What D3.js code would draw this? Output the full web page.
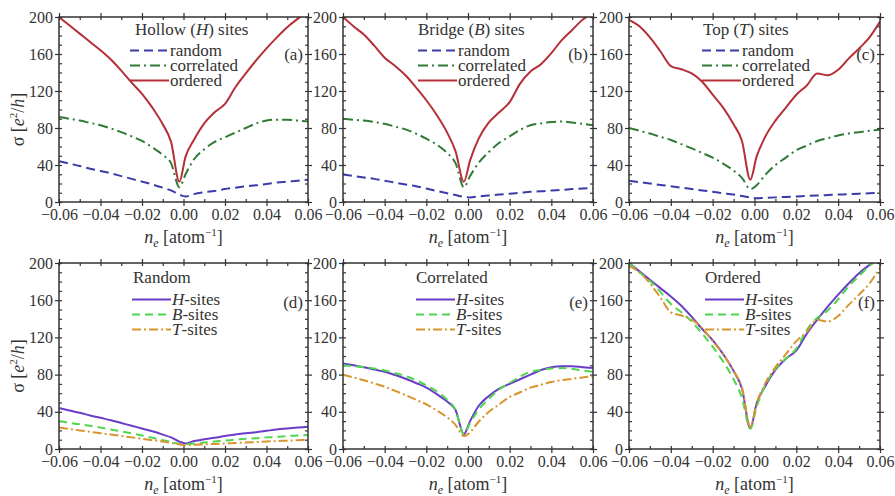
<!DOCTYPE html>
<html>
<head>
<meta charset="utf-8">
<script src="https://cdn.jsdelivr.net/npm/d3@7"></script>
<style>
body { margin: 0; background: #fff; }
svg text { font-family: "Liberation Serif", "DejaVu Serif", serif; }
.axis text { font-size: 16px; fill: #333; }
.axis line { stroke: #333; stroke-width: 1.2; }
.frame { fill: none; stroke: #333; stroke-width: 1.5; }
.title, .legend text, .plabel { font-size: 17px; fill: #333; }
</style>
</head>
<body>
<svg class="chart"></svg>
<script>
// carrier density grid (atom^-1)
var nValues = [-0.06, -0.055, -0.05, -0.045, -0.04, -0.035, -0.03, -0.025, -0.02, -0.015, -0.01, -0.006, -0.002,
               0.001, 0.005, 0.01, 0.015, 0.02, 0.025, 0.03, 0.035, 0.04, 0.045, 0.05, 0.055, 0.06];

// conductivity sigma [e^2/h], hollow sites
var hollowRandom     = [44, 41.5, 39, 36, 33.5, 31, 28, 25, 22, 19, 15.5, 12.5, 8, 6, 8.5, 10.5, 12, 14, 15.5, 17, 18, 19.5, 21, 22, 23, 24];
var hollowCorrelated = [92, 90, 88, 85.5, 83, 79.5, 75.5, 71, 66, 59, 51, 42, 16, 30, 46, 57, 65, 70, 75, 80, 85, 88, 89, 89, 88, 87];
var hollowOrdered    = [200, 191, 182, 173, 164, 154, 142, 129, 117, 102, 84, 65, 22, 49, 67, 85, 97, 106, 124, 139, 153, 166, 178, 189, 198, 206];

// bridge sites
var bridgeRandom     = [30, 28, 26.5, 25, 23, 21, 19, 17, 14.5, 12, 9.5, 7.5, 5.5, 5, 6, 7, 8, 9, 10, 11, 11.5, 12.5, 13, 14, 14.5, 15];
var bridgeCorrelated = [90, 89, 88, 86.5, 84.5, 81.5, 78.5, 74, 68.5, 62, 53, 42, 16, 28, 42, 54, 64, 71, 78, 83, 85, 86.5, 87, 86, 84.5, 83];
var bridgeOrdered    = [200, 190, 181, 169, 156, 147, 137, 124, 110, 94, 75, 55, 22, 45, 68, 86, 97, 108, 128, 141, 149, 161, 175, 186, 197, 204];

// top sites
var topRandom        = [23, 21.5, 20, 18.5, 17, 15.5, 14, 12.5, 11, 9.5, 8, 6.5, 5, 4, 4.5, 5, 5.5, 6, 6.5, 7, 7.5, 8, 8.5, 9, 9.5, 10];
var topCorrelated    = [80, 77, 74, 70.5, 67, 62.5, 58, 53, 48, 41.5, 34, 26, 14, 18, 29, 40, 48, 56, 61, 66, 69, 72, 74, 75.5, 77, 78];
var topOrdered       = [197, 190, 178, 163, 147, 143.5, 139, 130, 116, 102, 84, 66, 24, 49, 70, 88, 102, 116, 126, 139, 137, 143, 155, 166, 178, 195];

var xTicks = [-0.06, -0.04, -0.02, 0.00, 0.02, 0.04, 0.06];
var yTicks = [0, 40, 80, 120, 160, 200];

var styles = {
	random:     {color: "#3a3aa8", dash: "9,5"},
	correlated: {color: "#2f7a35", dash: "10,4,2,4"},
	ordered:    {color: "#b52f38", dash: null},
	H: {color: "#6a3cc8", dash: null},
	B: {color: "#4fd64f", dash: "8,5"},
	T: {color: "#d8952f", dash: "9,3,2,3"}
};

var cols = [[59, 308], [343, 593], [629, 880]];
var rows = [[17, 202], [263, 449]];

var panels = [
	{row: 0, col: 0, label: "(a)", title: [["Hollow ("], ["H", 1], [") sites"]], lx: 71, tx: 76,
	 series: [["random", hollowRandom, "random"], ["correlated", hollowCorrelated, "correlated"], ["ordered", hollowOrdered, "ordered"]]},
	{row: 0, col: 1, label: "(b)", title: [["Bridge ("], ["B", 1], [") sites"]], lx: 75, tx: 75,
	 series: [["random", bridgeRandom, "random"], ["correlated", bridgeCorrelated, "correlated"], ["ordered", bridgeOrdered, "ordered"]]},
	{row: 0, col: 2, label: "(c)", title: [["Top ("], ["T", 1], [") sites"]], lx: 73, tx: 74,
	 series: [["random", topRandom, "random"], ["correlated", topCorrelated, "correlated"], ["ordered", topOrdered, "ordered"]]},
	{row: 1, col: 0, label: "(d)", title: [["Random"]], lx: 73, tx: 74,
	 series: [["H", hollowRandom, "H"], ["B", bridgeRandom, "B"], ["T", topRandom, "T"]]},
	{row: 1, col: 1, label: "(e)", title: [["Correlated"]], lx: 73, tx: 73,
	 series: [["H", hollowCorrelated, "H"], ["B", bridgeCorrelated, "B"], ["T", topCorrelated, "T"]]},
	{row: 1, col: 2, label: "(f)", title: [["Ordered"]], lx: 76, tx: 76,
	 series: [["H", hollowOrdered, "H"], ["B", bridgeOrdered, "B"], ["T", topOrdered, "T"]]}
];

var svg = d3.select(".chart")
	.attr("width", 895)
	.attr("height", 496);

// write text pieces, some of them italic
function pieces(sel, parts) {
	parts.forEach(function(p) {
		sel.append("tspan")
			.style("font-style", p[1] ? "italic" : "normal")
			.text(p[0]);
	});
}

function axisTitleX(g, w, h) {
	var t = g.append("text")
		.attr("class", "title")
		.attr("x", w/2)
		.attr("y", h + 41)
		.attr("text-anchor", "middle")
		.style("font-size", "18px");
	t.append("tspan").style("font-style", "italic").text("n");
	t.append("tspan").style("font-style", "italic").style("font-size", "12px").attr("dy", 4).text("e");
	t.append("tspan").attr("dy", -4).text(" [atom");
	t.append("tspan").style("font-size", "11px").attr("dy", -7).text("\u22121");
	t.append("tspan").attr("dy", 7).text("]");
}

function axisTitleY(top, h) {
	var t = svg.append("text")
		.attr("class", "title")
		.attr("transform", "translate(24," + (top + h/2 + 10) + ") rotate(-90)")
		.attr("text-anchor", "middle")
		.style("font-size", "18px");
	t.append("tspan").text("\u03c3 [");
	t.append("tspan").style("font-style", "italic").text("e");
	t.append("tspan").style("font-size", "11px").attr("dy", -7).text("2");
	t.append("tspan").attr("dy", 7).text("/");
	t.append("tspan").style("font-style", "italic").text("h");
	t.append("tspan").text("]");
}

function make_panel(p, i) {
	var left = cols[p.col][0], top = rows[p.row][0];
	var w = cols[p.col][1] - left, h = rows[p.row][1] - top;

	var x = d3.scaleLinear().domain([-0.06, 0.06]).range([0, w]);
	var y = d3.scaleLinear().domain([0, 200]).range([h, 0]);
	var xMinor = d3.range(-0.06, 0.0601, 0.01);
	var yMinor = d3.range(0, 201, 10);

	var g = svg.append("g").attr("transform", "translate(" + left + "," + top + ")");

	g.append("clipPath").attr("id", "clip" + i)
	.append("rect").attr("width", w).attr("height", h);

	// outward major ticks with labels
	g.append("g").attr("class", "axis").attr("transform", "translate(0," + h + ")")
		.call(d3.axisBottom(x).tickValues(xTicks).tickSize(4).tickSizeOuter(0).tickPadding(3).tickFormat(d3.format(".2f")));
	g.append("g").attr("class", "axis")
		.call(d3.axisLeft(y).tickValues(yTicks).tickSize(4).tickSizeOuter(0).tickPadding(2));
	g.append("g").attr("class", "axis")
		.call(d3.axisTop(x).tickValues(xTicks).tickSize(4).tickSizeOuter(0).tickFormat(""));
	g.append("g").attr("class", "axis").attr("transform", "translate(" + w + ",0)")
		.call(d3.axisRight(y).tickValues(yTicks).tickSize(4).tickSizeOuter(0).tickFormat(""));

	// inward minor ticks
	g.append("g").attr("class", "axis").attr("transform", "translate(0," + h + ")")
		.call(d3.axisTop(x).tickValues(xMinor).tickSize(3).tickSizeOuter(0).tickFormat(""));
	g.append("g").attr("class", "axis")
		.call(d3.axisBottom(x).tickValues(xMinor).tickSize(3).tickSizeOuter(0).tickFormat(""));
	g.append("g").attr("class", "axis")
		.call(d3.axisRight(y).tickValues(yMinor).tickSize(3).tickSizeOuter(0).tickFormat(""));
	g.append("g").attr("class", "axis").attr("transform", "translate(" + w + ",0)")
		.call(d3.axisLeft(y).tickValues(yMinor).tickSize(3).tickSizeOuter(0).tickFormat(""));

	g.selectAll(".axis .domain").remove();

	var line = d3.line()
		.x(function(d) { return x(d[0]); })
		.y(function(d) { return y(d[1]); })
		.curve(d3.curveMonotoneX);

	g.selectAll(".curve")
		.data(p.series)
	.enter().append("path")
		.attr("class", "curve")
		.attr("clip-path", "url(#clip" + i + ")")
		.attr("d", function(s) { return line(nValues.map(function(n, k) { return [n, s[1][k]]; })); })
		.attr("fill", "none")
		.attr("stroke", function(s) { return styles[s[2]].color; })
		.attr("stroke-width", 2)
		.attr("stroke-dasharray", function(s) { return styles[s[2]].dash; });

	g.append("rect").attr("class", "frame").attr("width", w).attr("height", h);

	// legend
	var ty = p.row == 0 ? 18 : 20;
	var ry = p.row == 0 ? 39 : 42;
	var leg = g.append("g").attr("class", "legend");
	pieces(leg.append("text").attr("x", p.tx).attr("y", ty), p.title);

	var item = leg.selectAll(".item")
		.data(p.series)
	.enter().append("g")
		.attr("class", "item")
		.attr("transform", function(s, k) { return "translate(" + p.lx + "," + (ry + k*15) + ")"; });

	item.append("line")
		.attr("x1", 0).attr("x2", 39)
		.attr("y1", -5.5).attr("y2", -5.5)
		.attr("stroke", function(s) { return styles[s[2]].color; })
		.attr("stroke-width", 2)
		.attr("stroke-dasharray", function(s) { return styles[s[2]].dash; });

	item.each(function(s) {
		var t = d3.select(this).append("text").attr("x", 40).attr("y", 0);
		if (p.row == 0) pieces(t, [[s[0]]]);
		else pieces(t, [[s[0], 1], ["-sites"]]);
	});

	g.append("text")
		.attr("class", "plabel")
		.attr("x", w - 5)
		.attr("y", p.row == 0 ? 43 : 45)
		.attr("text-anchor", "end")
		.text(p.label);

	axisTitleX(g, w, h);
	if (p.col == 0) axisTitleY(top, h);
}

panels.forEach(make_panel);
</script>
</body>
</html>
